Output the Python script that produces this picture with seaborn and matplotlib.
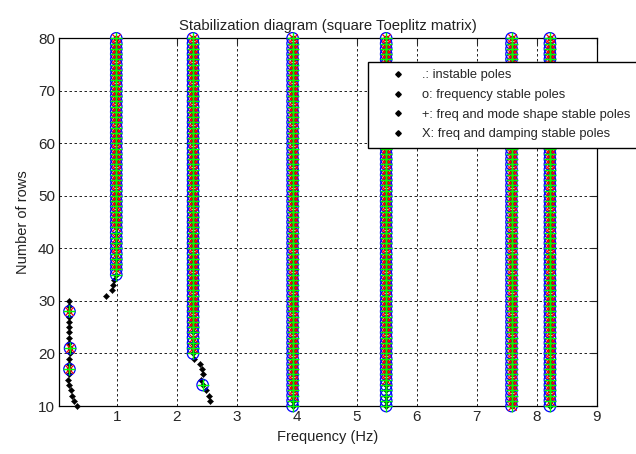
import matplotlib
matplotlib.use("Agg")
import matplotlib.pyplot as plt
from matplotlib.lines import Line2D
import pandas as pd
import seaborn as sns

# Low-frequency track that never settles (rows 10-30)
track_a_rows = list(range(10, 31))
track_a_freq = [0.33, 0.29, 0.25, 0.23, 0.21, 0.19, 0.20, 0.21, 0.21, 0.21, 0.22,
                0.22, 0.21, 0.21, 0.21, 0.21, 0.21, 0.21, 0.21, 0.21, 0.21]
track_a_stable = [17, 21, 28]
track_a_damping = [17, 21, 28]

# Poles drifting towards the 1 Hz mode
track_b_rows = [31, 32, 33, 34]
track_b_freq = [0.82, 0.92, 0.94, 0.96]

# Poles drifting towards the 2.3 Hz mode
track_c_rows = [11, 12, 13, 14, 15, 16, 17, 18, 19]
track_c_freq = [2.56, 2.53, 2.49, 2.43, 2.40, 2.44, 2.42, 2.38, 2.29]
track_c_stable = [14]
track_c_damping = []

# Stable physical modes: frequency (Hz) and first row of the stable column
mode_freq = [0.99, 2.27, 3.93, 5.49, 7.58, 8.22]
mode_first_row = [35, 20, 10, 10, 10, 10]
last_row = 80
# rows where the pole is stable in frequency and mode shape but not in damping
mode_no_damping = [[35, 38, 41, 43], [20, 22, 24], [10, 11], [10, 11, 12, 13, 14], [], [10]]

legend_labels = [".: instable poles", "o: frequency stable poles",
                 "+: freq and mode shape stable poles", "X: freq and damping stable poles"]

records = []


def add_track(rows, freqs, stable, damping):
    for r, f in zip(rows, freqs):
        records.append(dict(freq=f, rows=r, stable=r in stable, damp=r in damping))


add_track(track_a_rows, track_a_freq, track_a_stable, track_a_damping)
add_track(track_b_rows, track_b_freq, [], [])
add_track(track_c_rows, track_c_freq, track_c_stable, track_c_damping)
for f, first, nodamp in zip(mode_freq, mode_first_row, mode_no_damping):
    rows = list(range(first, last_row + 1))
    add_track(rows, [f] * len(rows), rows, [r for r in rows if r not in nodamp])

poles = pd.DataFrame(records)
stable = poles[poles["stable"]]
damped = poles[poles["damp"]]

sns.set_style("white")
plt.rcParams["font.family"] = ["Liberation Sans", "DejaVu Sans"]

fig = plt.figure(figsize=(6.36, 4.54), dpi=100)
ax = fig.add_axes([0.0932, 0.1057, 0.845, 0.8099])

sns.scatterplot(data=poles, x="freq", y="rows", ax=ax, marker="D", s=10,
                color="black", edgecolor="black", linewidth=0.3, zorder=3, clip_on=False)
sns.scatterplot(data=stable, x="freq", y="rows", ax=ax, marker="o", s=68,
                facecolor="none", edgecolor="blue", linewidth=0.9, zorder=4, clip_on=False)
sns.scatterplot(data=damped, x="freq", y="rows", ax=ax, marker="x", s=36,
                color="red", linewidth=0.9, zorder=5, clip_on=False)
sns.scatterplot(data=stable, x="freq", y="rows", ax=ax, marker="+", s=64,
                color="#00ff00", linewidth=1.0, zorder=6, clip_on=False)

ax.set_xlim(0.04, 9)
ax.set_ylim(10, 80)
ax.set_xticks(range(1, 10))
ax.set_yticks(range(10, 81, 10))
ax.grid(True, color="black", linestyle=(0, (3, 3)), linewidth=0.6)
ax.set_axisbelow(True)
for side in ["top", "bottom", "left", "right"]:
    ax.spines[side].set_visible(True)
    ax.spines[side].set_color("black")
    ax.spines[side].set_linewidth(0.9)
ax.tick_params(direction="in", length=4, width=0.8, top=True, right=True,
               labelsize=11, labelcolor="#262626", pad=3)

ax.set_title("Stabilization diagram (square Toeplitz matrix)", fontsize=10.7, pad=6, color="#222222")
ax.set_xlabel("Frequency (Hz)", fontsize=10.5, color="#222222", labelpad=4)
ax.set_ylabel("Number of rows", fontsize=10.5, color="#222222", labelpad=6)

handles = [Line2D([], [], linestyle="none", marker="D", markersize=2.8,
                  color="black") for _ in legend_labels]
fig.legend(handles, legend_labels, loc="upper left",
           bbox_to_anchor=(368.3 / 636, 1 - 61.7 / 454), borderaxespad=0,
           fontsize=9.3, frameon=True, fancybox=False, edgecolor="black",
           framealpha=1, borderpad=0.6, handlelength=3.4, handletextpad=0.15,
           labelspacing=0.58)

fig.savefig("out.png", dpi=100)
